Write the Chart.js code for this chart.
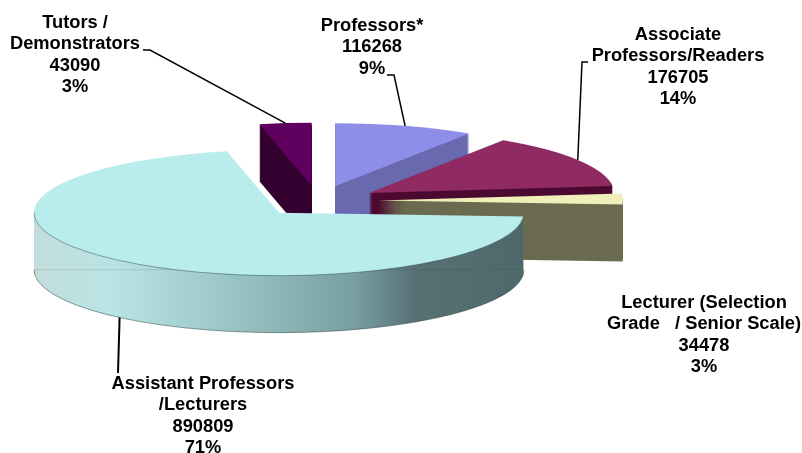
<!DOCTYPE html>
<html>
<head>
<meta charset="utf-8">
<style>
  html, body { margin: 0; padding: 0; background: #fff; }
  canvas { display: block; }
</style>
<script src="https://cdn.jsdelivr.net/npm/chart.js@4/dist/chart.umd.min.js"></script>
</head>
<body>
<canvas id="pie3d" width="802" height="453"></canvas>
<script>
// ---- data ----
const categories = ['Professors*', 'Associate Professors/Readers', 'Lecturer (Selection Grade / Senior Scale)', 'Assistant Professors /Lecturers', 'Tutors / Demonstrators'];
const staffCounts = [116268, 176705, 34478, 890809, 43090];
const labelLines = [
    ['Professors*'],
    ['Associate', 'Professors/Readers'],
    ['Lecturer (Selection', 'Grade   / Senior Scale)'],
    ['Assistant Professors', '/Lecturers'],
    ['Tutors /', 'Demonstrators']
];

// ---- look ----
const topColors = ['#8e8ee8', '#8f2a62', '#f0efba', '#b9ecec', '#5f005f'];
const wallColors = ['#6a6ab0', '#4c0a30', '#6b6b50', null, '#33002f'];
const SQUASH = 0.257;
const DEPTH = 57;
const LINE_H = 21.3;
// centre x and first line centre y of every label
const labelPos = [[372, 26], [678, 35], [704, 303], [203, 384], [75, 23]];
// where the leader lines start, null = no leader
const leaderElbows = [
    [[387, 75], [394, 75]],
    [[588, 62], [582, 62]],
    null,
    [[118, 373]],
    [[143, 50], [150, 50]]
];

// geometry of one slice on the squashed plane
function sliceGeom(el) {
    const p = el.getProps(['x', 'y', 'startAngle', 'endAngle', 'outerRadius'], true);
    const mid = (p.startAngle + p.endAngle) / 2;
    const off = el.options.offset / 4;
    return {
        ax: p.x + Math.cos(mid) * off,
        ay: p.y + Math.sin(mid) * off * SQUASH,
        rx: p.outerRadius,
        ry: p.outerRadius * SQUASH,
        start: p.startAngle,
        end: p.endAngle,
        mid: mid
    };
}

function slicePath(ctx, g, dy) {
    ctx.beginPath();
    ctx.moveTo(g.ax, g.ay + dy);
    ctx.ellipse(g.ax, g.ay + dy, g.rx, g.ry, 0, g.start, g.end);
    ctx.closePath();
}

function bigWallGradient(ctx, g) {
    const x0 = g.ax - g.rx;
    const x1 = g.ax + g.rx;
    const grad = ctx.createLinearGradient(x0, 0, x1, 0);
    grad.addColorStop(0, '#c3dcdc');
    grad.addColorStop(0.16, '#b9e4e4');
    grad.addColorStop(0.38, '#9cc8c8');
    grad.addColorStop(0.52, '#8ab2b2');
    grad.addColorStop(0.65, '#78a0a4');
    grad.addColorStop(0.78, '#567074');
    grad.addColorStop(1, '#4f686a');
    return grad;
}

// extruded slices, back to front
const pie3dPlugin = {
    id: 'pie3d',
    beforeDatasetDraw(chart, args) {
        const { ctx } = chart;
        const arcs = chart.getDatasetMeta(args.index).data;
        const order = arcs.map((el, i) => i).sort((a, b) => sliceGeom(arcs[a]).ay - sliceGeom(arcs[b]).ay);

        order.forEach(i => {
            const g = sliceGeom(arcs[i]);
            ctx.save();
            ctx.fillStyle = wallColors[i] || bigWallGradient(ctx, g);
            for (let d = DEPTH; d >= 1; d--) {
                slicePath(ctx, g, d);
                ctx.fill();
            }
            if (!wallColors[i]) {
                // faint seam on the big wall, rims of the front edge
                ctx.strokeStyle = 'rgba(40,60,60,0.14)';
                ctx.lineWidth = 1;
                ctx.beginPath();
                ctx.moveTo(g.ax - g.rx, g.ay + DEPTH);
                ctx.lineTo(g.ax + g.rx, g.ay + DEPTH);
                ctx.stroke();
                ctx.strokeStyle = 'rgba(40,60,60,0.5)';
                ctx.beginPath();
                ctx.ellipse(g.ax, g.ay + DEPTH, g.rx, g.ry, 0, 0, Math.PI);
                ctx.stroke();
            }
            slicePath(ctx, g, 0);
            ctx.fillStyle = topColors[i];
            ctx.fill();
            if (!wallColors[i]) {
                ctx.strokeStyle = 'rgba(40,60,60,0.45)';
                ctx.lineWidth = 1;
                ctx.beginPath();
                ctx.ellipse(g.ax, g.ay, g.rx, g.ry, 0, g.start, Math.PI);
                ctx.stroke();
            }
            ctx.restore();
        });
        return false; // the plugin did the drawing
    },
    afterDatasetsDraw(chart) {
        const { ctx } = chart;
        const meta = chart.getDatasetMeta(0);
        const data = chart.data.datasets[0].data;
        const total = data.reduce((a, b) => a + b, 0);

        ctx.save();
        // leader lines end on the rim at the middle of the slice
        ctx.strokeStyle = '#000';
        leaderElbows.forEach((pts, i) => {
            if (!pts) return;
            const g = sliceGeom(meta.data[i]);
            const ex = g.ax + Math.cos(g.mid) * g.rx;
            let ey = g.ay + Math.sin(g.mid) * g.ry;
            if (Math.sin(g.mid) > 0) ey += DEPTH; // front slices: lower rim
            ctx.lineWidth = pts.length === 1 ? 2 : 1.5;
            ctx.beginPath();
            pts.forEach((pt, n) => {
                if (n === 0) ctx.moveTo(pt[0], pt[1]);
                else ctx.lineTo(pt[0], pt[1]);
            });
            ctx.lineTo(ex, ey);
            ctx.stroke();
        });

        // labels
        ctx.fillStyle = '#000';
        ctx.font = 'bold 18.3px "Liberation Sans", Arial, sans-serif';
        ctx.textAlign = 'center';
        ctx.textBaseline = 'middle';
        labelLines.forEach((lines, i) => {
            const pct = Math.round(data[i] / total * 100) + '%';
            const all = lines.concat([String(data[i]), pct]);
            all.forEach((txt, n) => {
                ctx.fillText(txt, labelPos[i][0], labelPos[i][1] + n * LINE_H);
            });
        });
        ctx.restore();
    }
};

new Chart(document.getElementById('pie3d'), {
    type: 'pie',
    data: {
        labels: categories,
        datasets: [{
            data: staffCounts,
            backgroundColor: topColors,
            borderWidth: 0,
            offset: 240,
            radius: 245
        }]
    },
    options: {
        responsive: false,
        animation: false,
        layout: { padding: { right: 166, bottom: 51 } },
        plugins: {
            legend: { display: false },
            tooltip: { enabled: false }
        }
    },
    plugins: [pie3dPlugin]
});
</script>
</body>
</html>
